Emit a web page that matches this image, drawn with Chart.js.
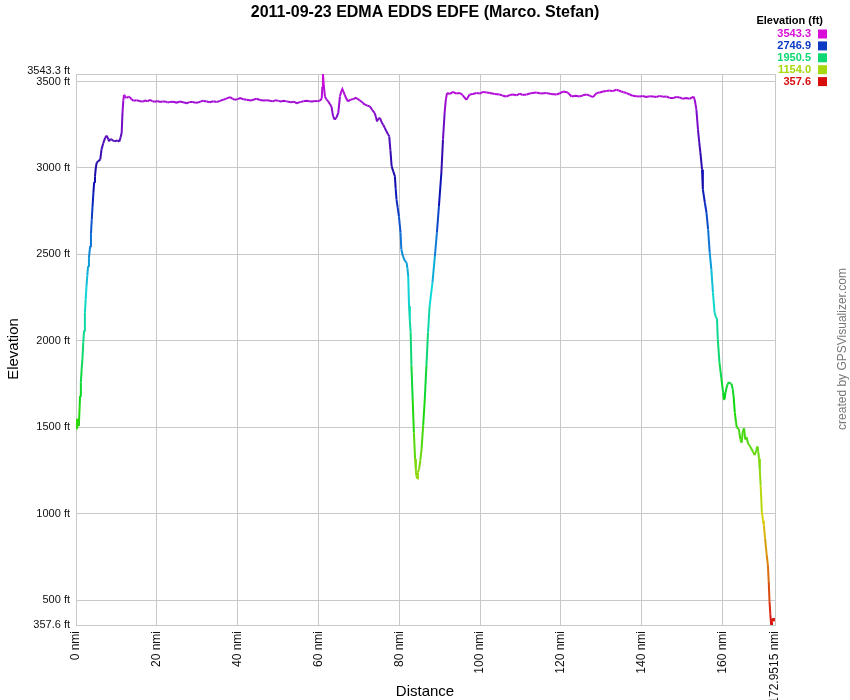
<!DOCTYPE html>
<html>
<head>
<meta charset="utf-8">
<script src="https://cdn.jsdelivr.net/npm/chart.js@4.4.0/dist/chart.umd.min.js"></script>
<style>
  body { margin: 0; background: #fff; }
  canvas { display: block; }
</style>
</head>
<body>
<canvas id="chart-1" width="850" height="700"></canvas>
<script>
// distance in nmi, elevation in ft
const distance = [
  0.0, 0.15, 0.35, 0.5, 0.7, 0.9, 1.0, 1.2, 1.4, 1.6, 1.8, 2.0, 2.2, 2.4, 2.6, 2.8, 3.0, 3.2, 3.5, 3.7,
  3.9, 4.1, 4.3, 4.5, 4.7, 4.9, 5.1, 5.5, 6.0, 6.3, 6.7, 7.2, 7.6, 8.0, 8.2, 8.5, 8.8, 9.2, 9.6, 10.2,
  10.7, 11.0, 11.3, 11.5, 11.7, 11.9, 12.2, 12.5, 12.9, 13.3, 13.7, 14.2, 15.0, 15.8, 16.5, 17.1, 17.7, 18.3, 18.9, 19.5,
  20.2, 20.8, 21.4, 22.0, 22.6, 23.2, 24.0, 24.9, 25.7, 26.5, 27.4, 28.1, 28.9, 29.5, 30.2, 30.9, 31.5, 32.3, 33.1, 34.0,
  34.8, 35.6, 36.4, 37.3, 38.1, 38.7, 39.3, 40.0, 40.6, 41.4, 42.2, 43.3, 44.0, 44.7, 45.5, 46.3, 47.2, 48.0, 48.7, 49.5,
  50.1, 50.7, 51.4, 52.1, 53.2, 53.9, 54.6, 55.6, 56.3, 57.0, 57.7, 58.4, 59.1, 59.8, 60.3, 60.8, 60.95, 61.1, 61.3, 61.6,
  62.0, 62.4, 62.8, 63.2, 63.6, 64.0, 64.4, 64.9, 65.3, 65.6, 65.9, 66.2, 66.5, 66.9, 67.3, 67.9, 68.6, 69.2, 69.8, 70.2,
  70.6, 71.0, 71.5, 72.1, 72.7, 73.3, 73.9, 74.2, 74.5, 74.8, 75.2, 75.6, 76.0, 76.4, 76.8, 77.2, 77.5, 77.8, 78.1, 78.5,
  78.9, 79.1, 79.3, 79.6, 79.9, 80.3, 80.5, 80.9, 81.4, 81.8, 82.0, 82.2, 82.4, 82.6, 82.8, 83.0, 83.3, 83.6, 83.9, 84.1,
  84.2, 84.4, 84.6, 84.9, 85.2, 85.5, 85.9, 86.3, 86.7, 87.1, 87.5, 88.2, 88.8, 89.3, 89.8, 90.4, 90.8, 91.2, 91.5, 91.8,
  92.5, 93.3, 94.1, 95.0, 95.7, 96.6, 97.4, 98.2, 99.1, 99.9, 100.7, 101.6, 102.4, 103.6, 104.8, 105.6, 106.5, 107.3, 108.1, 109.0,
  109.8, 110.5, 111.5, 112.5, 113.9, 115.0, 116.4, 117.5, 118.9, 119.7, 120.5, 121.7, 122.6, 123.6, 124.6, 125.4, 126.3, 127.1, 127.9, 128.8,
  129.6, 130.4, 131.2, 132.0, 132.8, 133.7, 134.3, 134.9, 135.5, 136.2, 137.0, 137.8, 138.6, 139.5, 140.2, 141.1, 141.9, 142.8, 143.6, 144.4,
  145.2, 146.1, 146.9, 147.7, 148.5, 149.4, 150.1, 151.0, 151.8, 152.8, 153.1, 153.5, 153.9, 154.2, 154.5, 154.9, 155.1, 155.6, 156.0, 156.4,
  156.8, 157.2, 157.6, 158.0, 158.3, 158.6, 158.8, 159.2, 159.7, 160.1, 160.3, 160.5, 160.7, 160.9, 161.2, 161.6, 161.9, 162.2, 162.5, 162.7,
  163.0, 163.3, 163.5, 164.0, 164.4, 164.7, 165.0, 165.3, 165.6, 165.9, 166.3, 166.7, 167.1, 167.5, 167.9, 168.3, 168.6, 168.8, 169.0, 169.2,
  169.4, 169.7, 170.0, 170.2, 170.5, 170.9, 171.2, 171.4, 171.6, 171.8, 172.0, 172.2, 172.4, 172.7, 172.9515
];
const elevation = [
  1550, 1490, 1500, 1550, 1510, 1620, 1683, 1760, 1837, 1900, 1991, 2060, 2164, 2240, 2318, 2380, 2433, 2480, 2548, 2620,
  2702, 2780, 2856, 2920, 2952, 3000, 3029, 3040, 3048, 3106, 3140, 3174, 3187, 3165, 3154, 3168, 3164, 3158, 3154, 3160,
  3152, 3175, 3202, 3318, 3390, 3423, 3410, 3404, 3412, 3410, 3398, 3389, 3392, 3386, 3384, 3390, 3385, 3394, 3386, 3383,
  3387, 3381, 3384, 3385, 3379, 3381, 3383, 3378, 3384, 3380, 3375, 3381, 3382, 3377, 3378, 3385, 3389, 3384, 3380, 3386,
  3381, 3388, 3394, 3402, 3410, 3401, 3394, 3398, 3404, 3397, 3394, 3390, 3396, 3400, 3393, 3390, 3392, 3389, 3385, 3392,
  3388, 3384, 3388, 3385, 3380, 3383, 3375, 3382, 3386, 3389, 3386, 3384, 3387, 3386, 3389, 3400, 3470, 3543.3, 3480, 3413,
  3395, 3385, 3370, 3356, 3300, 3279, 3290, 3318, 3413, 3440, 3456, 3440, 3423, 3400, 3385, 3395, 3398, 3405, 3398, 3390,
  3385, 3375, 3366, 3360, 3356, 3335, 3318, 3295, 3269, 3285, 3289, 3265, 3250, 3232, 3212, 3195, 3183, 3100, 3010, 2980,
  2952, 2880, 2818, 2770, 2721, 2626, 2529, 2490, 2462, 2453, 2420, 2375, 2202, 2120, 2049, 1856, 1664, 1472, 1318, 1250,
  1222, 1205, 1240, 1261, 1310, 1376, 1510, 1664, 1856, 2049, 2202, 2337, 2491, 2626, 2779, 2971, 3164, 3318, 3394, 3433,
  3428, 3440, 3430, 3433, 3420, 3394, 3425, 3428, 3433, 3430, 3440, 3436, 3433, 3428, 3425, 3418, 3413, 3422, 3425, 3420,
  3430, 3422, 3425, 3432, 3436, 3430, 3433, 3428, 3425, 3432, 3442, 3436, 3413, 3418, 3413, 3420, 3425, 3418, 3410, 3433,
  3436, 3442, 3445, 3448, 3444, 3452, 3448, 3442, 3438, 3433, 3425, 3417, 3415, 3413, 3416, 3410, 3415, 3413, 3410, 3417,
  3412, 3413, 3405, 3404, 3410, 3408, 3400, 3404, 3400, 3413, 3394, 3337, 3221, 3150, 3087, 2991, 2876, 2799, 2741, 2645,
  2510, 2414, 2280, 2164, 2140, 2126, 2010, 1876, 1780, 1703, 1660, 1664, 1700, 1722, 1750, 1761, 1755, 1751, 1720, 1683,
  1587, 1530, 1501, 1490, 1430, 1412, 1480, 1495, 1430, 1445, 1405, 1395, 1376, 1360, 1340, 1365, 1390, 1360, 1320, 1250,
  1164, 1011, 960, 934, 857, 761, 703, 607, 492, 420, 357.6, 380, 396, 385, 396
];
const yTicks = [357.6, 500, 1000, 1500, 2000, 2500, 3000, 3500, 3543.3];
const xTicks = [0, 20, 40, 60, 80, 100, 120, 140, 160, 172.9515];
const legendValues = [3543.3, 2746.9, 1950.5, 1154.0, 357.6];

const minElev = 357.6;
const maxElev = 3543.3;
const FONT = "'Liberation Sans', Arial, sans-serif";
const GRID = "#c8c8c8";

// red -> yellow -> green -> cyan -> blue -> magenta by elevation
function elevColor(v) {
  const t = Math.max(0, Math.min(1, (v - minElev) / (maxElev - minElev)));
  const h = 300 * t;
  const l = 45 - 10 * Math.max(0, 1 - Math.abs(h - 248) / 40);
  return `hsl(${h.toFixed(1)}, 88%, ${l.toFixed(1)}%)`;
}

const decor = {
  id: "decor",
  afterDraw(chart) {
    const c = chart.ctx;
    c.save();
    c.fillStyle = "#000";
    c.textBaseline = "middle";
    c.textAlign = "center";
    c.font = `bold 16px ${FONT}`;
    c.fillText("2011-09-23 EDMA EDDS EDFE (Marco. Stefan)", 425, 13);

    c.font = `15px ${FONT}`;
    c.fillText("Distance", 425, 692);
    c.save();
    c.translate(14, 349);
    c.rotate(-Math.PI / 2);
    c.fillText("Elevation", 0, 0);
    c.restore();

    c.save();
    c.translate(843, 349);
    c.rotate(-Math.PI / 2);
    c.fillStyle = "#777";
    c.font = `12px ${FONT}`;
    c.fillText("created by GPSVisualizer.com", 0, 0);
    c.restore();

    c.textAlign = "right";
    c.font = `bold 11px ${FONT}`;
    c.fillStyle = "#000";
    c.fillText("Elevation (ft)", 823, 21);
    legendValues.forEach((v, i) => {
      const y = 34 + i * 11.9;
      c.fillStyle = elevColor(v);
      c.fillText(v.toFixed(1), 811, y);
      c.fillRect(818, y - 4.5, 9, 9);
    });
    c.restore();
  },
};

const ctx_1 = document.getElementById("chart-1");
new Chart(ctx_1, {
  type: "line",
  data: {
    datasets: [
      {
        label: "Elevation",
        data: distance.map((d, i) => ({ x: d, y: elevation[i] })),
        borderColor: "#8a1acc",
        borderWidth: 2,
        pointRadius: 0,
        tension: 0,
        segment: {
          borderColor: (s) => elevColor((s.p0.parsed.y + s.p1.parsed.y) / 2),
        },
      },
    ],
  },
  options: {
    responsive: false,
    devicePixelRatio: 1,
    animation: false,
    layout: { padding: { top: 74, right: 75, left: 0, bottom: 0 } },
    plugins: {
      legend: { display: false },
      title: { display: false },
      tooltip: { enabled: false },
    },
    scales: {
      x: {
        type: "linear",
        min: 0,
        max: 172.9515,
        afterBuildTicks: (scale) => {
          scale.ticks = xTicks.map((v) => ({ value: v }));
        },
        afterFit: (scale) => {
          scale.height = 75;
        },
        grid: { color: GRID, drawTicks: false },
        border: { color: GRID },
        ticks: {
          autoSkip: false,
          minRotation: 90,
          maxRotation: 90,
          padding: 6,
          color: "#111",
          font: { family: FONT, size: 12 },
          callback: (v) => `${v} nmi`,
        },
      },
      y: {
        min: minElev,
        max: maxElev,
        afterBuildTicks: (scale) => {
          scale.ticks = yTicks.map((v) => ({ value: v }));
        },
        afterFit: (scale) => {
          scale.width = 76;
        },
        grid: { color: GRID, drawTicks: false },
        border: { color: GRID },
        ticks: {
          autoSkip: false,
          padding: 6,
          color: "#111",
          font: (c) =>
            c.tick && c.tick.value === maxElev
              ? { family: FONT, size: 11, lineHeight: "7px" }
              : { family: FONT, size: 11 },
          callback: (v) => (v === maxElev ? [`${v} ft`, ""] : `${v} ft`),
        },
      },
    },
  },
  plugins: [decor],
});
</script>
</body>
</html>
